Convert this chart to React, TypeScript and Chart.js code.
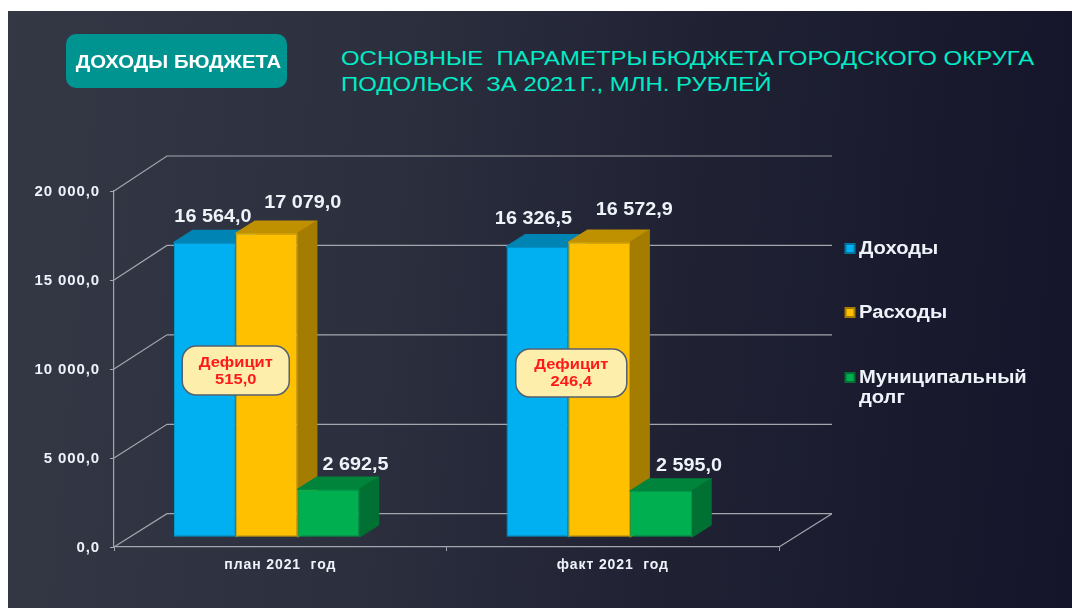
import React, { useEffect, useRef } from "react";
import { Chart, registerables } from "chart.js";

Chart.register(...registerables);

const categories = ["план 2021  год", "факт 2021  год"];
const incomeValues = [16564.0, 16326.5];
const expenseValues = [17079.0, 16572.9];
const debtValues = [2692.5, 2595.0];
const deficitValues = [515.0, 246.4];
const yTicks = [0, 5000, 10000, 15000, 20000];
const seriesNames = ["Доходы", "Расходы", "Муниципальный долг"];

const FONT = '"Liberation Sans", Arial, sans-serif';
const TEXT = "#eef3fa";
const GRID = "#a3a6ad";

const palette = [
  { front: "#00b0f0", top: "#0084b4", side: "#0078a6", edge: "#0098d0" },
  { front: "#ffc000", top: "#bf9000", side: "#a47c00", edge: "#e0a900" },
  { front: "#00b050", top: "#00843c", side: "#007033", edge: "#009a46" },
];

// label placement relative to each bar, by series then category
const labelShift = [
  [{ x: 8, y: -25 }, { x: -4, y: -28 }],
  [{ x: 36, y: -30 }, { x: 35, y: -32 }],
  [{ x: 27, y: -24 }, { x: 28, y: -25 }],
];
const calloutBox = [
  { dx: -44.5, cy: 370.5, w: 107, h: 49 },
  { dx: -41.5, cy: 373, w: 111, h: 48 },
];

const fmt = (v: number) => {
  const [i, d] = v.toFixed(1).split(".");
  return i.replace(/\B(?=(\d{3})+(?!\d))/g, " ") + "," + d;
};

const DEPTH = { x: 19, y: -12 };
const WALL = { x: 53, y: -33.3, yRise: -1.7 };
const BAR_SHIFT = { x: -13.5, y: -9.7 };

function wideText(ctx: any, text: string, x: number, y: number, sx: number) {
  ctx.save();
  ctx.translate(x, y);
  ctx.scale(sx, 1);
  ctx.fillText(text, 0, 0);
  ctx.restore();
}

const scene3d = {
  id: "scene3d",
  beforeDraw(chart: any) {
    chart.ctx.letterSpacing = "0.9px";
  },
  beforeDatasetsDraw(chart: any) {
    const { ctx, chartArea: a, scales } = chart;
    const y = scales.y;

    // walls
    ctx.save();
    ctx.strokeStyle = GRID;
    ctx.lineWidth = 1.2;
    ctx.beginPath();
    yTicks.forEach((t) => {
      const p = y.getPixelForValue(t);
      const dy = WALL.y + (WALL.yRise * t) / 20000;
      ctx.moveTo(a.left, p);
      ctx.lineTo(a.left + WALL.x, p + dy);
      ctx.lineTo(a.right + WALL.x, p + dy);
    });
    ctx.moveTo(a.right, a.bottom);
    ctx.lineTo(a.right + WALL.x, a.bottom + WALL.y);
    ctx.stroke();
    ctx.restore();

    // bars, painted left to right so that each covers the side of the previous
    ctx.save();
    ctx.translate(BAR_SHIFT.x, BAR_SHIFT.y);
    chart.data.datasets.forEach((_: any, di: number) => {
      const meta = chart.getDatasetMeta(di);
      const c = palette[di];
      meta.data.forEach((bar: any) => {
        const { x, y: top, base, width } = bar.getProps(["x", "y", "base", "width"]);
        const l = x - width / 2;
        const r = x + width / 2;
        ctx.lineJoin = "round";
        ctx.lineWidth = 1.5;
        ctx.fillStyle = c.top;
        ctx.strokeStyle = c.top;
        ctx.beginPath();
        ctx.moveTo(l, top);
        ctx.lineTo(l + DEPTH.x, top + DEPTH.y);
        ctx.lineTo(r + DEPTH.x, top + DEPTH.y);
        ctx.lineTo(r, top);
        ctx.closePath();
        ctx.fill();
        ctx.stroke();
        ctx.fillStyle = c.side;
        ctx.strokeStyle = c.side;
        ctx.beginPath();
        ctx.moveTo(r, top);
        ctx.lineTo(r + DEPTH.x, top + DEPTH.y);
        ctx.lineTo(r + DEPTH.x, base + DEPTH.y);
        ctx.lineTo(r, base);
        ctx.closePath();
        ctx.fill();
        ctx.stroke();
        bar.draw(ctx);
      });
    });
    ctx.restore();
    return false;
  },
  afterDraw(chart: any) {
    const { ctx, scales } = chart;
    const x = scales.x;
    ctx.save();
    ctx.letterSpacing = "0px";

    // value labels
    ctx.textAlign = "center";
    ctx.textBaseline = "middle";
    ctx.fillStyle = TEXT;
    ctx.font = `bold 18px ${FONT}`;
    chart.data.datasets.forEach((ds: any, di: number) => {
      chart.getDatasetMeta(di).data.forEach((bar: any, i: number) => {
        const s = labelShift[di][i];
        wideText(ctx, fmt(ds.data[i]), bar.x + BAR_SHIFT.x + s.x, bar.y + BAR_SHIFT.y + s.y, 1.1);
      });
    });

    // deficit callouts
    deficitValues.forEach((v, i) => {
      const b = calloutBox[i];
      const cx = x.getPixelForValue(i) + b.dx;
      ctx.beginPath();
      ctx.roundRect(cx - b.w / 2, b.cy - b.h / 2, b.w, b.h, 14);
      ctx.fillStyle = "#fdeeab";
      ctx.fill();
      ctx.lineWidth = 1.5;
      ctx.strokeStyle = "#55606e";
      ctx.stroke();
      ctx.fillStyle = "#ff1a1a";
      ctx.font = `bold 15px ${FONT}`;
      wideText(ctx, "Дефицит", cx, b.cy - 8, 1.1);
      wideText(ctx, fmt(v), cx, b.cy + 9, 1.1);
    });

    // legend
    const legendY = [248.5, 312.5, 377.5];
    ctx.textAlign = "left";
    ctx.font = `bold 18px ${FONT}`;
    chart.data.datasets.forEach((ds: any, di: number) => {
      const c = palette[di];
      const my = legendY[di];
      ctx.fillStyle = c.side;
      ctx.fillRect(844.5, my - 5.5, 11, 11);
      ctx.fillStyle = c.front;
      ctx.fillRect(846.5, my - 3.5, 7, 7);
      ctx.fillStyle = TEXT;
      String(ds.label)
        .split(" ")
        .forEach((w: string, k: number) => {
          wideText(ctx, w, 859, my + 1 + k * 19.5, 1.12);
        });
    });
    ctx.restore();
  },
};

export default function App() {
  const ref = useRef<HTMLCanvasElement>(null);
  useEffect(() => {
    const canvas = ref.current;
    if (!canvas) return;
    const chart = new Chart(canvas, {
      type: "bar",
      data: {
        labels: categories,
        datasets: [incomeValues, expenseValues, debtValues].map((d, i) => ({
          label: seriesNames[i],
          data: d,
          backgroundColor: palette[i].front,
          borderColor: palette[i].edge,
          borderWidth: 1,
          borderSkipped: false,
          barPercentage: 1,
          categoryPercentage: 0.558,
        })),
      },
      options: {
        responsive: false,
        animation: false,
        layout: { padding: { left: 0, right: 293, top: 191, bottom: 0 } },
        plugins: { legend: { display: false }, tooltip: { enabled: false }, title: { display: false } },
        scales: {
          x: {
            afterFit: (s: any) => { s.height = 61; },
            grid: { drawOnChartArea: false, drawTicks: true, tickLength: 4, color: GRID },
            border: { color: GRID, width: 1.2 },
            ticks: {
              color: TEXT,
              font: { family: FONT, size: 14, weight: "bold" },
              padding: 6,
              maxRotation: 0,
              autoSkip: false,
            },
          },
          y: {
            min: 0,
            max: 20000,
            afterFit: (s: any) => { s.width = 114; },
            afterBuildTicks: (s: any) => { s.ticks = yTicks.map((value) => ({ value })); },
            grid: { drawOnChartArea: false, drawTicks: true, tickLength: 4, color: GRID },
            border: { color: GRID, width: 1.2 },
            ticks: {
              color: TEXT,
              font: { family: FONT, size: 15, weight: "bold" },
              padding: 10,
              labelOffset: 1,
              callback: (v: any) => fmt(Number(v)),
            },
          },
        },
      } as any,
      plugins: [scene3d],
    });
    return () => chart.destroy();
  }, []);

  return (
    <div style={{ position: "fixed", inset: 0, background: "#fff", overflow: "hidden" }}>
      <div
        style={{
          position: "absolute",
          left: 8,
          top: 11,
          right: 0,
          bottom: 0,
          background: "linear-gradient(95deg, #343845 0%, #2c2f3e 35%, #1f2133 65%, #14142a 100%)",
        }}
      />
      <div
        style={{
          position: "absolute",
          left: 68,
          top: 34,
          width: 221,
          height: 54,
          color: "#fff",
          font: `bold 18.5px ${FONT}`,
          textAlign: "center",
          lineHeight: "55px",
          whiteSpace: "nowrap",
          zIndex: 1,
        }}
      >
        <span style={{ display: "inline-block", transform: "scaleX(1.1)" }}>ДОХОДЫ БЮДЖЕТА</span>
      </div>
      <div
        style={{
          position: "absolute",
          left: 66,
          top: 34,
          width: 221,
          height: 54,
          borderRadius: 10,
          background: "#009490",
        }}
      />
      <div
        style={{
          position: "absolute",
          left: 341,
          top: 45,
          color: "#00ecc6",
          font: `21px/26px ${FONT}`,
          whiteSpace: "pre",
          transform: "scaleX(1.14)",
          transformOrigin: "left top",
        }}
      >
        {"ОСНОВНЫЕ  "}
        <span style={{ wordSpacing: -3 }}>ПАРАМЕТРЫ БЮДЖЕТА ГОРОДСКОГО</span>
        {" ОКРУГА\nПОДОЛЬСК  ЗА "}
        <span style={{ wordSpacing: -3 }}>2021 Г.,</span>
        {" МЛН. РУБЛЕЙ"}
      </div>
      <canvas
        ref={ref}
        width={1072}
        height={608}
        style={{ position: "absolute", left: 0, top: 0, width: 1072, height: 608 }}
      />
    </div>
  );
}
